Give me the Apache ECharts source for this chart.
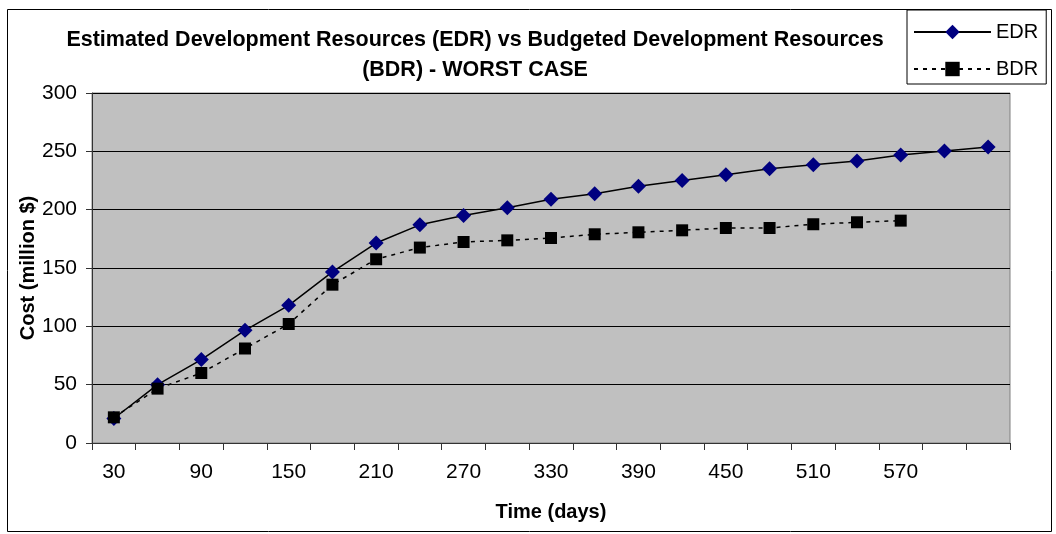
<!DOCTYPE html>
<html>
<head>
<meta charset="utf-8">
<script src="https://cdn.jsdelivr.net/npm/echarts@6/dist/echarts.min.js"></script>
<style>
  html, body { margin: 0; padding: 0; background: #fff; }
  #main { width: 1056px; height: 534px; }
</style>
</head>
<body>
<div id="main"></div>
<script>
// 数据
const days = ['30', '60', '90', '120', '150', '180', '210', '240', '270', '300', '330',
    '360', '390', '420', '450', '480', '510', '540', '570', '600', '630'];
const edr = [21, 50, 71.5, 96.6, 118, 146.6, 171.4, 187, 195, 201.7, 208.9,
    213.7, 220, 225, 230, 235, 238.6, 241.7, 246.9, 250.3, 253.7];
const bdr = [22, 46.6, 60, 81, 102, 135.7, 157.5, 167.5, 172.3, 173.7, 175.7,
    178.9, 180.6, 182.3, 184.3, 184.3, 187.5, 189.2, 190.6];

const font = 'Liberation Sans, Arial, sans-serif';

let myChart = echarts.init(document.getElementById('main'));

let option = {
    animation: false,
    backgroundColor: '#fff',
    textStyle: { fontFamily: font },
    title: {
        text: 'Estimated Development Resources (EDR) vs Budgeted Development Resources\n(BDR) - WORST CASE',
        left: 475,
        top: 25,
        padding: 0,
        textAlign: 'center',
        textStyle: {
            fontFamily: font,
            fontSize: 21.5,
            fontWeight: 'bold',
            color: '#000',
            lineHeight: 30
        }
    },
    legend: {
        orient: 'vertical',
        left: 907,
        top: 10,
        padding: [12, 8, 5, 6],
        itemWidth: 77,
        itemHeight: 18,
        itemGap: 17,
        backgroundColor: '#fff',
        borderColor: '#000',
        borderWidth: 1,
        borderRadius: 0,
        textStyle: { fontFamily: font, fontSize: 20, color: '#000' },
        data: ['EDR', 'BDR']
    },
    grid: {
        left: 92,
        right: 46,
        top: 93,
        bottom: 91,
        show: true,
        backgroundColor: '#c0c0c0',
        borderColor: '#808080',
        borderWidth: 1
    },
    xAxis: {
        type: 'category',
        data: days,
        boundaryGap: true,
        name: 'Time (days)',
        nameLocation: 'middle',
        nameGap: 59,
        nameMoveOverlap: false,
        nameTextStyle: { fontFamily: font, fontSize: 20, fontWeight: 'bold', color: '#000' },
        axisLine: { lineStyle: { color: '#333', width: 1 } },
        axisTick: { show: true, interval: 0, length: 7, lineStyle: { color: '#333' } },
        axisLabel: {
            // 每隔一个显示，最后一个不显示
            interval: function (index) { return index % 2 === 0 && index < 20; },
            margin: 19,
            fontFamily: font,
            fontSize: 21,
            color: '#000'
        },
        splitLine: { show: false }
    },
    yAxis: {
        type: 'value',
        min: 0,
        max: 300,
        interval: 50,
        name: 'Cost (million $)',
        nameLocation: 'middle',
        nameGap: 54,
        nameMoveOverlap: false,
        nameTextStyle: { fontFamily: font, fontSize: 20, fontWeight: 'bold', color: '#000' },
        axisLine: { show: true, lineStyle: { color: '#333', width: 1 } },
        axisTick: { show: true, length: 6, lineStyle: { color: '#333' } },
        axisLabel: { margin: 15, fontFamily: font, fontSize: 21, color: '#000' },
        splitLine: { show: true, lineStyle: { color: '#000', width: 1 } }
    },
    graphic: [
        {
            type: 'rect',
            silent: true,
            z: 100,
            shape: { x: 7.5, y: 9.5, width: 1044, height: 522 },
            style: { fill: null, stroke: '#000', lineWidth: 1 }
        }
    ],
    series: [
        {
            name: 'EDR',
            type: 'line',
            data: edr,
            symbol: 'diamond',
            symbolSize: 15,
            itemStyle: { color: '#000080' },
            lineStyle: { color: '#000', width: 1.5 }
        },
        {
            name: 'BDR',
            type: 'line',
            data: bdr,
            symbol: 'rect',
            symbolSize: 12,
            itemStyle: { color: '#000' },
            lineStyle: { color: '#000', width: 1.5, type: [4, 5] }
        }
    ]
};

myChart.setOption(option);
</script>
</body>
</html>
